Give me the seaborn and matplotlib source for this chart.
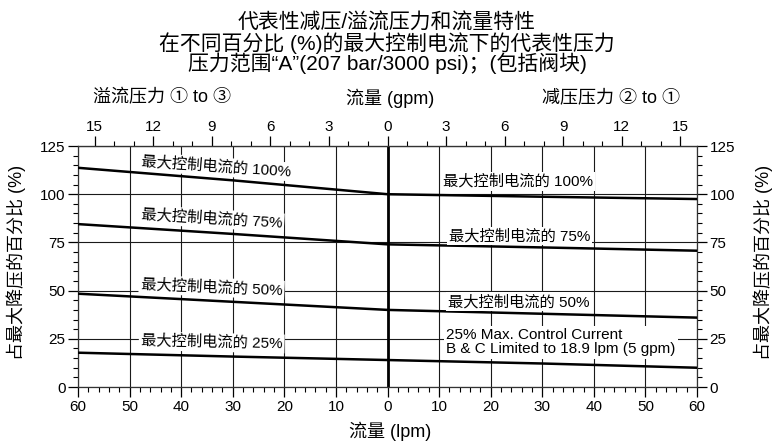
import numpy as np
import pandas as pd
import matplotlib
matplotlib.use("Agg")
import matplotlib.pyplot as plt
from matplotlib.ticker import MultipleLocator
import seaborn as sns

# 流量 (lpm): 负值 = 溢流侧, 正值 = 减压侧
flow_lpm = [-60, -30, 0, 30, 60]
pct_100 = [113.7, 107.2, 100.0, 98.7, 97.5]
pct_75 = [84.5, 79.4, 74.0, 72.4, 70.7]
pct_50 = [48.4, 44.2, 40.0, 38.0, 36.0]
pct_25 = [17.8, 15.8, 14.0, 12.2, 10.0]
levels = ["100%", "75%", "50%", "25%"]

lpm_ticks = list(range(-60, 61, 10))
gpm_ticks = list(range(-15, 16, 3))
pct_ticks = [0, 25, 50, 75, 100, 125]
LPM_PER_GPM = 3.785

title_lines = [
    "代表性减压/溢流压力和流量特性",
    "在不同百分比 (%)的最大控制电流下的代表性压力",
    "压力范围“A”(207 bar/3000 psi)；(包括阀块)",
]
note_text = "25% Max. Control Current\nB & C Limited to 18.9 lpm (5 gpm)"

df = pd.DataFrame({
    "flow": flow_lpm * 4,
    "pct": pct_100 + pct_75 + pct_50 + pct_25,
    "level": np.repeat(levels, len(flow_lpm)),
})

sns.set_style("ticks")
plt.rcParams["font.family"] = ["Liberation Sans", "Noto Sans CJK SC", "DejaVu Sans"]
plt.rcParams.update({"text.color": "black", "xtick.color": "black",
                     "ytick.color": "black", "axes.labelcolor": "black"})

fig = plt.figure(figsize=(7.74, 4.41), dpi=100)
ax = fig.add_axes([0.1008, 0.1224, 0.7997, 0.5465])

ax.grid(True, which="major", color="#1a1a1a", lw=0.8)
ax.axvline(0, color="black", lw=2, zorder=2)
sns.lineplot(data=df, x="flow", y="pct", hue="level", palette=["black"] * 4,
             lw=1.8, legend=False, ax=ax, zorder=3)

ax.set_xlim(-60, 60)
ax.set_ylim(0, 125)
ax.set_xticks(lpm_ticks, labels=[str(abs(t)) for t in lpm_ticks])
ax.set_yticks(pct_ticks)
ax.xaxis.set_minor_locator(MultipleLocator(2))
ax.yaxis.set_minor_locator(MultipleLocator(5))
ax.tick_params(which="both", direction="out", labelsize=11, colors="black",
               right=True, labelright=True, pad=2)
ax.tick_params(which="major", length=7, width=0.9)
ax.tick_params(which="minor", length=3.5, width=0.8)
ax.set_xlabel("")
ax.set_ylabel("")
for s in ax.spines.values():
    s.set_visible(True)
    s.set_color("#333333")
    s.set_linewidth(0.9)

# 上方 gpm 刻度
sec = ax.secondary_xaxis("top", functions=(lambda x: x / LPM_PER_GPM,
                                           lambda g: g * LPM_PER_GPM))
sec.set_xticks(gpm_ticks, labels=[str(abs(t)) for t in gpm_ticks])
sec.xaxis.set_minor_locator(MultipleLocator(1))
sec.tick_params(which="both", direction="out", labelsize=11, colors="black", pad=2)
sec.tick_params(which="major", length=7, width=0.9)
sec.tick_params(which="minor", length=3.5, width=0.8)

# 曲线标注
box = dict(facecolor="white", edgecolor="none", pad=1.5)
left_labels = [(-47.8, 117.0, -4.0), (-47.8, 89.6, -3.5),
               (-47.8, 53.4, -2.5), (-47.8, 24.0, -1.3)]
right_labels = [(10.7, 106.5), (11.9, 78.3), (11.7, 44.2)]
for lvl, (x, y, rot) in zip(levels, left_labels):
    ax.text(x, y, f"最大控制电流的 {lvl}", fontsize=11, ha="left", va="center",
            rotation=rot, rotation_mode="anchor", bbox=box, zorder=4)
for lvl, (x, y) in zip(levels[:3], right_labels):
    ax.text(x, y, f"最大控制电流的 {lvl}", fontsize=11, ha="left", va="center",
            bbox=box, zorder=4)
ax.text(11.4, 23.3, note_text, fontsize=11, ha="left", va="center",
        linespacing=1.05, bbox=box, zorder=4)

# 标题与轴标题
for i, line in enumerate(title_lines):
    fig.text(0.5, 0.948 - i * 0.0455, line, fontsize=15, ha="center", va="center")
fig.text(0.209, 0.778, "溢流压力 ① to ③", fontsize=13, ha="center", va="center")
fig.text(0.504, 0.778, "流量 (gpm)", fontsize=13, ha="center", va="center")
fig.text(0.790, 0.778, "减压压力 ② to ①", fontsize=13, ha="center", va="center")
fig.text(0.504, 0.021, "流量 (lpm)", fontsize=13, ha="center", va="center")
ylab = "占最大降压的百分比 (%)"
fig.text(0.021, 0.406, ylab, fontsize=13, rotation=90, ha="center", va="center")
fig.text(0.986, 0.406, ylab, fontsize=13, rotation=90, ha="center", va="center")

fig.savefig("out.png", dpi=100)
